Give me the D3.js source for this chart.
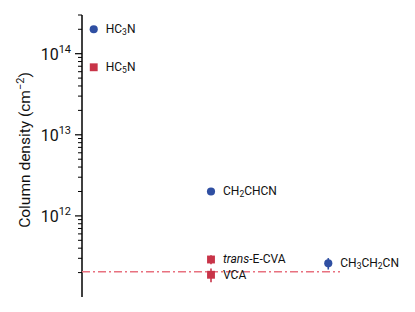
<!DOCTYPE html>
<html>
<head>
<meta charset="utf-8">
<script src="https://cdn.jsdelivr.net/npm/d3@7"></script>
<style>
  body { margin: 0; background: #fff; }
  svg text { font-family: Roboto, "Noto Sans", sans-serif; }
</style>
</head>
<body>
<svg id="chart"></svg>
<script>
const width = 415;
const height = 312;

// molecules: name parts (for subscripts), position slot, value, error, marker
const names = [
  [["HC", ""], ["3", "sub"], ["N", ""]],
  [["HC", ""], ["5", "sub"], ["N", ""]],
  [["CH", ""], ["2", "sub"], ["CHCN", ""]],
  [["trans", "it"], ["-E-CVA", ""]],
  [["VCA", ""]],
  [["CH", ""], ["3", "sub"], ["CH", ""], ["2", "sub"], ["CN", ""]]
];
const slots = [1, 1, 2, 2, 2, 3];
const values = [2.0e14, 6.8e13, 2.0e12, 2.9e11, 1.88e11, 2.6e11];
const errors = [0, 0, 0, 0.37e11, 0.36e11, 0.42e11];
const markers = ["circle", "square", "circle", "square", "square", "circle"];
const limit = 2.05e11;
const majorTicks = [1e12, 1e13, 1e14];
const tickExp = ["12", "13", "14"];

const blue = "#2f4fa2";
const red = "#c83448";

const svg = d3.select("#chart").attr("width", width).attr("height", height);

const y = d3.scaleLog().domain([1e11, 3e14]).range([297, 15]);
const x = d3.scaleLinear().domain([0.9, 3.1]).range([82, 340]);

// minor ticks 2..9 per decade
const minor = [];
[1e11, 1e12, 1e13, 1e14].forEach(d => {
  for (let k = 2; k <= 9; k++) {
    const v = d * k;
    if (v <= 3e14) minor.push(v);
  }
});

const axis = svg.append("g");
axis.append("line")
  .attr("x1", x(0.9)).attr("x2", x(0.9))
  .attr("y1", y.range()[0]).attr("y2", y.range()[1])
  .attr("stroke", "#000").attr("stroke-width", 1.5);

axis.selectAll("line.minor").data(minor).enter().append("line")
  .attr("class", "minor")
  .attr("x1", x(0.9) - 4).attr("x2", x(0.9))
  .attr("y1", d => y(d)).attr("y2", d => y(d))
  .attr("stroke", "#000").attr("stroke-width", 1);

axis.selectAll("line.major").data(majorTicks).enter().append("line")
  .attr("class", "major")
  .attr("x1", x(0.9) - 7).attr("x2", x(0.9))
  .attr("y1", d => y(d)).attr("y2", d => y(d))
  .attr("stroke", "#000").attr("stroke-width", 1.2);

const tl = axis.selectAll("text.tick").data(majorTicks).enter().append("text")
  .attr("class", "tick")
  .attr("x", x(0.9) - 11)
  .attr("y", d => y(d) + 6)
  .attr("text-anchor", "end")
  .attr("font-size", 16)
  .attr("fill", "#111");
tl.append("tspan").text("10");
tl.append("tspan").attr("dy", -7).attr("font-size", 11).text((d, i) => tickExp[i]);

// y label
const yl = svg.append("text")
  .attr("transform", "translate(30,150) rotate(-90)")
  .attr("text-anchor", "middle")
  .attr("font-size", 15.5)
  .attr("fill", "#111");
yl.append("tspan").text("Column density (cm");
yl.append("tspan").attr("dy", -6).attr("font-size", 11).text("\u22122");
yl.append("tspan").attr("dy", 6).text(")");

// detection limit line
svg.append("line")
  .attr("x1", x(0.9)).attr("x2", x(3.1))
  .attr("y1", y(limit)).attr("y2", y(limit))
  .attr("stroke", "#e8717f").attr("stroke-width", 1.5)
  .attr("stroke-dasharray", "8,3,2,3");

// error bars
const idx = d3.range(values.length);
svg.selectAll("line.err").data(idx.filter(i => errors[i] > 0)).enter().append("line")
  .attr("class", "err")
  .attr("x1", i => x(slots[i])).attr("x2", i => x(slots[i]))
  .attr("y1", i => y(values[i] - errors[i])).attr("y2", i => y(values[i] + errors[i]))
  .attr("stroke", i => markers[i] === "circle" ? blue : red)
  .attr("stroke-width", 1.6);

// markers
const circ = d3.symbol().type(d3.symbolCircle).size(52);
const sq = d3.symbol().type(d3.symbolSquare).size(62);
svg.selectAll("path.mark").data(idx).enter().append("path")
  .attr("class", "mark")
  .attr("transform", i => `translate(${x(slots[i])},${y(values[i])})`)
  .attr("d", i => markers[i] === "circle" ? circ() : sq())
  .attr("fill", i => markers[i] === "circle" ? blue : red);

// labels
const labels = svg.selectAll("text.lab").data(idx).enter().append("text")
  .attr("class", "lab")
  .attr("x", i => x(slots[i]) + 12)
  .attr("y", i => y(values[i]) + 4)
  .attr("font-size", 12)
  .attr("fill", "#111");

labels.each(function(i) {
  const t = d3.select(this);
  let shifted = false;
  names[i].forEach(([s, kind]) => {
    const sp = t.append("tspan").text(s);
    if (kind === "sub") {
      sp.attr("font-size", 8.5).attr("dy", 2);
      shifted = true;
    } else if (shifted) {
      sp.attr("dy", -2);
      shifted = false;
    }
    if (kind === "it") sp.attr("font-style", "italic");
  });
});
</script>
</body>
</html>
